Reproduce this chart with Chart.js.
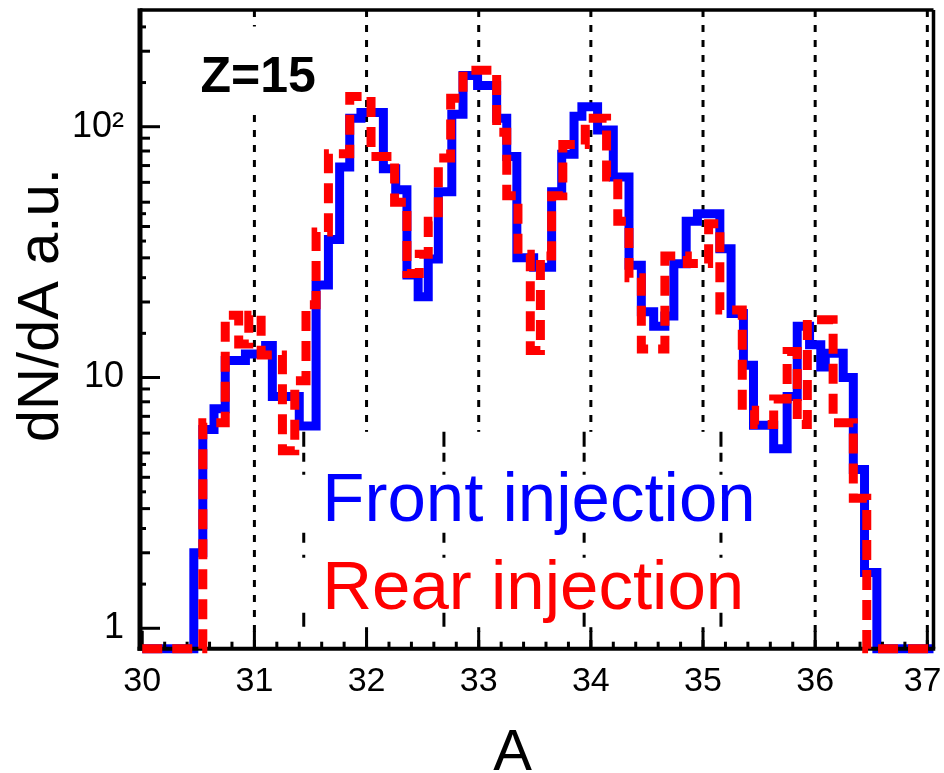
<!DOCTYPE html>
<html>
<head>
<meta charset="utf-8">
<script src="https://cdn.jsdelivr.net/npm/chart.js@4.4.0/dist/chart.umd.min.js"></script>
<style>
  html, body { margin: 0; padding: 0; background: #fff; }
  #wrap { width: 944px; height: 773px; }
</style>
</head>
<body>
<div id="wrap"><canvas id="massChart" width="944" height="773"></canvas></div>
<script>
// histogram bin edges (A) and dN/dA for each bin (0 = empty bin)
var frontEdges = [30.00, 30.46, 30.54, 30.64, 30.74, 30.92, 31.10, 31.16, 31.40, 31.55,
                  31.66, 31.76, 31.85, 31.95, 32.15, 32.26, 32.36, 32.46, 32.55, 32.64,
                  32.76, 32.86, 32.99, 33.16, 33.25, 33.34, 33.49, 33.65, 33.74, 33.85,
                  33.92, 34.06, 34.20, 34.34, 34.45, 34.56, 34.66, 34.74, 34.85, 34.95,
                  35.15, 35.25, 35.36, 35.45, 35.63, 35.75, 35.84, 35.95, 36.05, 36.09,
                  36.25, 36.34, 36.44, 36.55];
var frontValues = [0, 2.0, 6.2, 7.5, 11.7, 12.4, 13.4, 8.4, 6.4, 23.4,
                   35.5, 69, 108, 114, 68, 56, 25.6, 21, 29.7, 55,
                   112, 160, 146, 108, 76, 30, 27.5, 55, 77.6, 110,
                   120, 97, 63, 28, 18.3, 16, 17.6, 28.4, 42, 45,
                   32.6, 18, 11.2, 6.45, 5.2, 8.4, 16, 13.5, 11, 12.5,
                   10, 4.3, 1.67, 0];

var rearEdges = [30.00, 30.54, 30.74, 30.86, 30.95, 31.06, 31.25, 31.36, 31.46, 31.55,
                 31.66, 31.85, 32.04, 32.25, 32.36, 32.47, 32.55, 32.64, 32.75, 32.86,
                 33.16, 33.25, 33.35, 33.46, 33.55, 33.65, 33.75, 33.95, 34.14, 34.24,
                 34.34, 34.45, 34.66, 34.86, 35.05, 35.15, 35.35, 35.46, 35.63, 35.75,
                 35.84, 35.93, 36.16, 36.34, 36.46];
var rearValues = [0, 6.6, 17.7, 13.6, 17.7, 12.3, 5.1, 9.7, 19.5, 38,
                  78, 132, 76, 50, 26, 31, 42, 75, 130, 168,
                  95, 53, 31, 12.8, 30.5, 53, 85, 108, 63, 42,
                  25, 13, 30.5, 28.5, 41, 18.6, 7.4, 6.5, 8.2, 12.7,
                  6.5, 17, 6.6, 3.3, 0];

var xTicks = [30, 31, 32, 33, 34, 35, 36, 37];
var yTicks = [1, 10, 100];
var dashedLines = [31, 32, 33, 34, 35, 36, 37];
var insetLines = [31.44, 32.69, 33.94, 35.16];

var X_MIN = 29.98, X_MAX = 37.055;
var Y_MIN = 0.829, Y_MAX = 292;
var FONT = '"Liberation Sans", Arial, sans-serif';

// step points: each edge carries the value of the bin that starts there
function toSteps(edges, values) {
    var pts = [];
    for (var i = 0; i < edges.length; i++) {
        pts.push({ x: edges[i], y: values[i] > 0 ? values[i] : Y_MIN });
    }
    pts.push({ x: X_MAX, y: pts[pts.length - 1].y });
    return pts;
}

function line(ctx, x1, y1, x2, y2) {
    ctx.beginPath();
    ctx.moveTo(x1, y1);
    ctx.lineTo(x2, y2);
    ctx.stroke();
}

var decorPlugin = {
    id: 'decor',
    beforeDatasetsDraw: function (chart) {
        var ctx = chart.ctx, a = chart.chartArea;
        var xs = chart.scales.x, ys = chart.scales.y;
        ctx.save();
        ctx.strokeStyle = '#000';
        ctx.lineWidth = 3;
        ctx.setLineDash([7, 8]);
        dashedLines.forEach(function (v) {
            var px = xs.getPixelForValue(v);
            line(ctx, px, a.top, px, a.bottom);
        });
        ctx.setLineDash([]);
        // white label boxes hide the grid lines behind the texts
        ctx.fillStyle = '#fff';
        var zx1 = xs.getPixelForValue(30.38), zx2 = xs.getPixelForValue(31.68);
        var zy1 = ys.getPixelForValue(251), zy2 = ys.getPixelForValue(119.5);
        ctx.fillRect(zx1, zy1, zx2 - zx1, zy2 - zy1);
        var lx1 = xs.getPixelForValue(31.05), lx2 = xs.getPixelForValue(35.93);
        var ly1 = ys.getPixelForValue(6.07), ly2 = ys.getPixelForValue(1.01);
        ctx.fillRect(lx1, ly1, lx2 - lx1, ly2 - ly1);
        ctx.setLineDash([15, 6, 9, 10, 3, 58, 10, 12, 3, 55, 14]);
        insetLines.forEach(function (v) {
            var px = xs.getPixelForValue(v);
            line(ctx, px, ly1, px, ly2);
        });
        ctx.restore();
    },
    afterDatasetDraw: function (chart, args) {
        if (args.index !== 1) return; // frame goes between blue and red
        var ctx = chart.ctx, a = chart.chartArea;
        var xs = chart.scales.x, ys = chart.scales.y;
        ctx.save();
        ctx.strokeStyle = '#000';
        ctx.setLineDash([]);
        ctx.lineWidth = 3.5;
        line(ctx, a.left, a.top, a.right, a.top);
        line(ctx, a.right, a.top, a.right, a.bottom);
        ctx.lineWidth = 4;
        line(ctx, a.left - 2.5, a.bottom, a.right + 1.75, a.bottom);
        ctx.lineWidth = 5;
        line(ctx, a.left, a.top - 1.75, a.left, a.bottom + 2);
        // ticks pointing inward
        ctx.lineWidth = 3;
        for (var k = 150; k <= 185; k++) {
            var px = xs.getPixelForValue(k / 5);
            var len = (k % 5 === 0) ? 18 : 7;
            line(ctx, px, a.bottom, px, a.bottom - len);
        }
        var mults = [1, 1.5, 2, 2.5, 3, 3.5, 4, 4.5, 5, 6, 7, 8, 9];
        [1, 10, 100].forEach(function (d) {
            mults.forEach(function (m) {
                var v = m * d;
                if (v < Y_MIN || v > Y_MAX) return;
                var py = ys.getPixelForValue(v);
                var len = m === 1 ? 20 : (m % 1 === 0 ? 10 : 6);
                line(ctx, a.left, py, a.left + len, py);
            });
        });
        ctx.restore();
    },
    afterDatasetsDraw: function (chart) {
        var ctx = chart.ctx;
        var xs = chart.scales.x, ys = chart.scales.y;
        ctx.save();
        ctx.textBaseline = 'alphabetic';
        ctx.textAlign = 'left';
        ctx.fillStyle = '#000';
        ctx.font = 'bold 50px ' + FONT;
        ctx.fillText('Z=15', xs.getPixelForValue(30.52), ys.getPixelForValue(137));
        ctx.font = '69px ' + FONT;
        ctx.fillStyle = '#0000ff';
        ctx.fillText('Front injection', xs.getPixelForValue(31.605), ys.getPixelForValue(2.68));
        ctx.fillStyle = '#ff0000';
        ctx.fillText('Rear injection', xs.getPixelForValue(31.605), ys.getPixelForValue(1.19));
        ctx.restore();
    }
};

var ctx = document.getElementById('massChart').getContext('2d');

var myChart = new Chart(ctx, {
    type: 'line',
    data: {
        datasets: [
            {
                label: 'Rear injection',
                data: toSteps(rearEdges, rearValues),
                borderColor: '#ff0000',
                borderWidth: 9,
                borderDash: [20, 10],
                borderCapStyle: 'butt',
                borderJoinStyle: 'miter',
                stepped: 'before',
                pointRadius: 0,
                fill: false,
                clip: false,
                order: 0
            },
            {
                label: 'Front injection',
                data: toSteps(frontEdges, frontValues),
                borderColor: '#0000ff',
                borderWidth: 9,
                borderCapStyle: 'butt',
                borderJoinStyle: 'miter',
                stepped: 'before',
                pointRadius: 0,
                fill: false,
                clip: false,
                order: 1
            }
        ]
    },
    options: {
        responsive: false,
        animation: false,
        layout: { padding: { top: 10, right: 10.5, left: 0, bottom: 0 } },
        plugins: {
            legend: { display: false },
            tooltip: { enabled: false }
        },
        scales: {
            x: {
                type: 'linear',
                min: X_MIN,
                max: X_MAX,
                grid: { display: false, drawTicks: false },
                border: { display: false },
                afterBuildTicks: function (s) {
                    s.ticks = xTicks.map(function (v) { return { value: v }; });
                },
                afterFit: function (s) {
                    s.height = 124.3;
                    s.paddingLeft = 0;
                    s.paddingRight = 0;
                },
                ticks: {
                    padding: 13,
                    color: '#000',
                    maxRotation: 0,
                    autoSkip: false,
                    font: { family: FONT, size: 34 },
                    // last label nudged left so it stays inside the page
                    callback: function (v) { return v === 37 ? '37 ' : String(v); }
                },
                title: {
                    display: true,
                    text: 'A   ',
                    color: '#000',
                    padding: 0,
                    font: { family: FONT, size: 58, lineHeight: 0.65 }
                }
            },
            y: {
                type: 'logarithmic',
                min: Y_MIN,
                max: Y_MAX,
                grid: { display: false, drawTicks: false },
                border: { display: false },
                afterBuildTicks: function (s) {
                    s.ticks = yTicks.map(function (v) { return { value: v }; });
                },
                afterFit: function (s) {
                    s.width = 140;
                    s.paddingTop = 0;
                    s.paddingBottom = 0;
                },
                ticks: {
                    padding: 16,
                    color: '#000',
                    autoSkip: false,
                    font: { family: FONT, size: 36 },
                    callback: function (v) {
                        if (v === 100) return '10\u00b2';
                        return String(v);
                    }
                },
                title: {
                    display: true,
                    text: '   dN/dA a.u.',
                    color: '#000',
                    padding: { top: 13, bottom: 0 },
                    font: { family: FONT, size: 58, lineHeight: 1 }
                }
            }
        }
    },
    plugins: [decorPlugin]
});
</script>
</body>
</html>
